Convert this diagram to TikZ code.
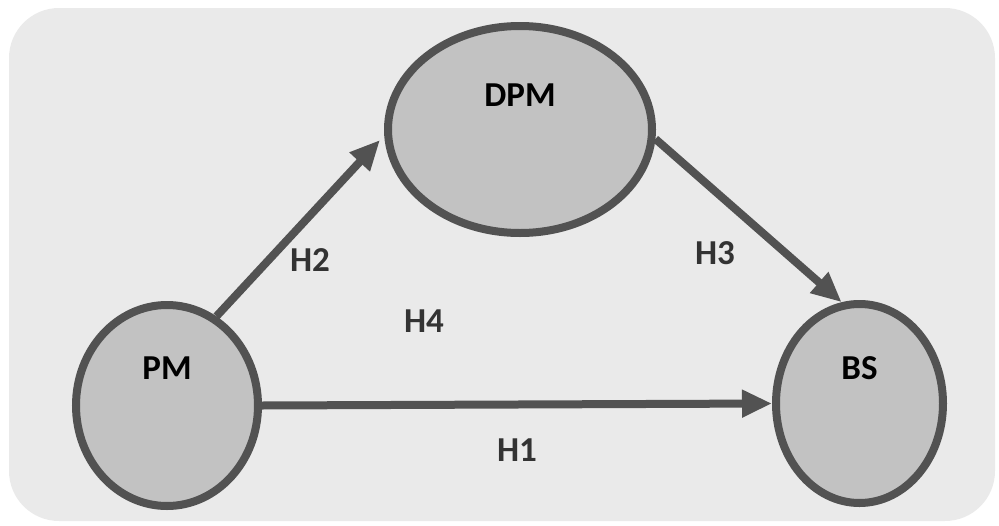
\documentclass[tikz,border=0pt]{standalone}
\usepackage{fontspec}
\setmainfont{Carlito}
\usetikzlibrary{shapes.geometric,arrows.meta}

\definecolor{panelgray}{HTML}{EAEAEA}
\definecolor{bubblegray}{HTML}{C2C2C2}
\definecolor{edgegray}{HTML}{525252}

\tikzset{
  construct/.style={ellipse,draw=edgegray,fill=bubblegray,line width=8pt,inner sep=0pt},
  constructname/.style={font=\fontsize{35}{35}\selectfont\bfseries,text=black},
  pathlabel/.style={font=\fontsize{35}{35}\selectfont\bfseries,text=black!80},
  effect/.style={draw=edgegray,line width=8pt,-{Triangle[length=30pt,width=26pt]}}
}

\begin{document}
\begin{tikzpicture}[x=1pt,y=-1pt]
\useasboundingbox (0,0) rectangle (999,525);
\fill[panelgray,rounded corners=50pt] (9,8) rectangle (995,521);

% constructs
\node[construct,minimum width=182pt,minimum height=201pt] (pm) at (167,405.5) {};
\node[construct,minimum width=264pt,minimum height=207pt] (dpm) at (520,129.5) {};
\node[construct,minimum width=167pt,minimum height=199pt] (bs) at (859.5,403.5) {};
\node[constructname] (pmname) at ([yshift=37pt]pm.center) {PM};
\node[constructname] (dpmname) at ([yshift=34pt]dpm.center) {DPM};
\node[constructname] (bsname) at ([yshift=35pt]bs.center) {BS};

% hypotheses
\coordinate (h2tip) at (380,140);
\draw[effect] (pm.east) -- (bs.west);
\draw[effect] (pm.61) -- (h2tip);
\draw[effect] (dpm.-4) -- (bs.100);

\node[pathlabel] (h1) at (517,450) {H1};
\node[pathlabel] (h2) at (310,260) {H2};
\node[pathlabel] (h3) at (715,253) {H3};
\node[pathlabel] (h4) at (424,321) {H4};
\end{tikzpicture}
\end{document}
